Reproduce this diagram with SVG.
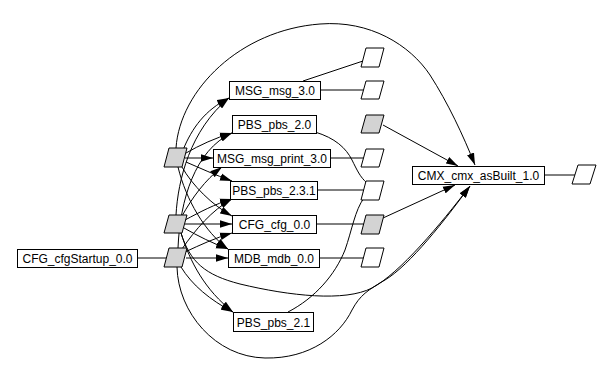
<svg xmlns="http://www.w3.org/2000/svg" width="612" height="372" viewBox="0 0 612 372">
<defs>
<marker id="arr" markerUnits="userSpaceOnUse" markerWidth="12" markerHeight="8" viewBox="0 0 12 8" refX="12" refY="4" orient="auto">
<path d="M0,0.3 L12,4 L0,7.7 z" fill="#000"/>
</marker>
</defs>
<style>
.box{fill:#fff;stroke:#000;stroke-width:1}
.pw{fill:#fff;stroke:#000;stroke-width:1}
.pg{fill:#d3d3d3;stroke:#000;stroke-width:1}
.e{fill:none;stroke:#000;stroke-width:1}
.a{fill:none;stroke:#000;stroke-width:1;marker-end:url(#arr)}
text{font-family:"Liberation Sans",Arial,sans-serif;font-size:12px;text-anchor:middle;fill:#000}
</style>
<rect width="612" height="372" fill="#fff"/>
<g id="edges">
<path class="e" d="M137,258 L166,258"/>
<path class="a" d="M183,150 C192,128 205,110 229,98"/>
<path class="a" d="M186,153 C200,145 215,138 232,133"/>
<path class="a" d="M185,158 L213,158"/>
<path class="a" d="M186,162 C200,168 215,175 232,181"/>
<path class="a" d="M182,167 C192,185 212,205 232,216"/>
<path class="a" d="M178,167 C186,200 205,232 228,249"/>
<path class="a" d="M176,148 C180,90 240,30 320,24 C370,20 410,45 430,75 C448,103 463,135 475,165"/>
<path class="a" d="M176,215 C178,180 190,130 229,98"/>
<path class="a" d="M182,216 C192,198 205,180 222,167"/>
<path class="a" d="M185,220 C200,212 215,204 232,199"/>
<path class="a" d="M185,224 L232,224"/>
<path class="a" d="M184,228 C198,236 212,243 228,249"/>
<path class="a" d="M181,233 C190,262 205,290 233,312"/>
<path class="a" d="M181,233 C190,262 205,275 240,284 C290,296 345,302 372,288 C400,273 440,225 470,186"/>
<path class="a" d="M178,248 C180,200 195,150 232,133"/>
<path class="a" d="M182,249 C195,230 212,210 232,199"/>
<path class="a" d="M185,252 C200,245 215,238 232,233"/>
<path class="a" d="M186,258 L228,258"/>
<path class="a" d="M181,267 C192,285 210,300 233,312"/>
<path class="a" d="M177,267 C178,312 215,357 265,358 C310,359 340,335 352,310 C360,295 368,290 385,280 C410,265 445,220 470,186"/>
<path class="e" d="M303,81 L363,61"/>
<path class="e" d="M320,90 L364,90"/>
<path class="e" d="M330,158 L364,158"/>
<path class="e" d="M317,190 L364,190"/>
<path class="e" d="M316,224 L364,224"/>
<path class="e" d="M319,258 L364,258"/>
<path class="e" d="M315,132 C335,138 346,148 352,160 C357,170 360,177 367,183"/>
<path class="e" d="M288,312 C315,298 335,275 345,250 C352,230 355,210 364,198"/>
<path class="a" d="M383,125 L458,166"/>
<path class="a" d="M383,218 L455,185"/>
<path class="e" d="M544,175 L575,175"/>
</g>
<g id="P1"><polygon class="pg" points="169,148 187,148 182,167 164,167"/></g>
<g id="P2"><polygon class="pg" points="169,215 187,215 182,233 164,233"/></g>
<g id="P3"><polygon class="pg" points="169,248 187,248 182,267 164,267"/></g>
<g id="R1"><polygon class="pw" points="366,48 384,48 379,67 361,67"/></g>
<g id="R2"><polygon class="pw" points="366,81 384,81 379,99 361,99"/></g>
<g id="R3"><polygon class="pg" points="366,115 384,115 379,133 361,133"/></g>
<g id="R4"><polygon class="pw" points="366,149 384,149 379,167 361,167"/></g>
<g id="R5"><polygon class="pw" points="366,181 384,181 379,200 361,200"/></g>
<g id="R6"><polygon class="pg" points="366,215 384,215 379,234 361,234"/></g>
<g id="R7"><polygon class="pw" points="366,248 384,248 379,267 361,267"/></g>
<g id="OUT"><polygon class="pw" points="578,165 596,165 590,184 572,184"/></g>
<g id="CFG_cfgStartup_0.0"><rect class="box" x="17.5" y="249.5" width="120" height="18"/><text x="77.5" y="263">CFG_cfgStartup_0.0</text></g>
<g id="MSG_msg_3.0"><rect class="box" x="229.5" y="81.5" width="91" height="18"/><text x="275" y="95">MSG_msg_3.0</text></g>
<g id="PBS_pbs_2.0"><rect class="box" x="232.5" y="115.5" width="84" height="18"/><text x="274.5" y="129">PBS_pbs_2.0</text></g>
<g id="MSG_msg_print_3.0"><rect class="box" x="213.5" y="149.5" width="117" height="18"/><text x="272" y="163">MSG_msg_print_3.0</text></g>
<g id="PBS_pbs_2.3.1"><rect class="box" x="230.5" y="181.5" width="87" height="18"/><text x="274" y="195">PBS_pbs_2.3.1</text></g>
<g id="CFG_cfg_0.0"><rect class="box" x="232.5" y="215.5" width="84" height="18"/><text x="274.5" y="229">CFG_cfg_0.0</text></g>
<g id="MDB_mdb_0.0"><rect class="box" x="228.5" y="249.5" width="91" height="18"/><text x="274" y="263">MDB_mdb_0.0</text></g>
<g id="PBS_pbs_2.1"><rect class="box" x="233.5" y="312.5" width="80" height="19"/><text x="273.5" y="326.5">PBS_pbs_2.1</text></g>
<g id="CMX_cmx_asBuilt_1.0"><rect class="box" x="412.5" y="166.5" width="132" height="18"/><text x="478.5" y="180">CMX_cmx_asBuilt_1.0</text></g>
</svg>
